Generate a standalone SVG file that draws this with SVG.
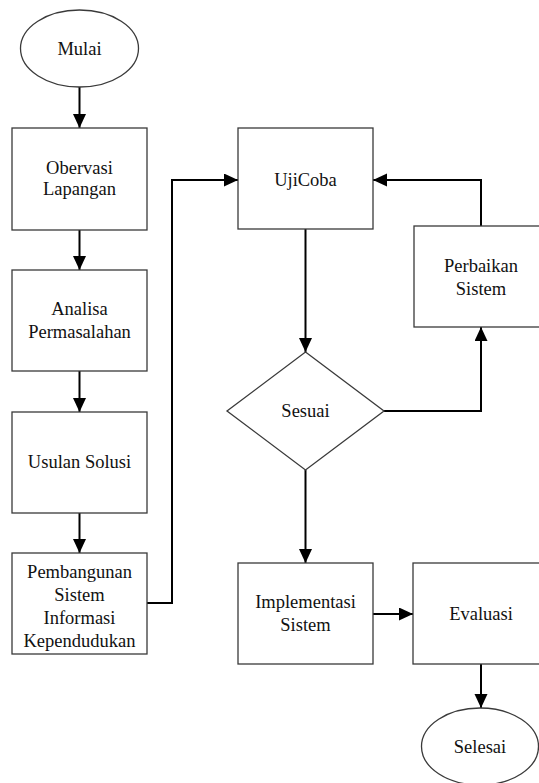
<svg xmlns="http://www.w3.org/2000/svg" width="539" height="783" viewBox="0 0 539 783">
<style>
.shape{fill:#fff;stroke:#3a3a3a;stroke-width:1.3}
.conn{fill:none;stroke:#000;stroke-width:2}
text{font-family:"Liberation Serif","Times New Roman",serif;font-size:18.5px;fill:#111;text-anchor:middle}
</style>
<defs>
<marker id="ah" markerUnits="userSpaceOnUse" markerWidth="14" markerHeight="14" refX="14" refY="6.5" orient="auto">
<path d="M0,0 L14,6.5 L0,13 z" fill="#000"/>
</marker>
</defs>
<rect width="539" height="783" fill="#fff"/>
<g id="connectors">
<path class="conn" d="M79.5,87 V128" marker-end="url(#ah)"/>
<path class="conn" d="M79.5,230 V270" marker-end="url(#ah)"/>
<path class="conn" d="M79.5,371 V412" marker-end="url(#ah)"/>
<path class="conn" d="M79.5,513 V553" marker-end="url(#ah)"/>
<path class="conn" d="M147,603 H172 V180 H238" marker-end="url(#ah)"/>
<path class="conn" d="M305.5,229 V352" marker-end="url(#ah)"/>
<path class="conn" d="M384,411 H481 V327" marker-end="url(#ah)"/>
<path class="conn" d="M481,226 V180 H373" marker-end="url(#ah)"/>
<path class="conn" d="M305.5,470 V563" marker-end="url(#ah)"/>
<path class="conn" d="M373,614 H413" marker-end="url(#ah)"/>
<path class="conn" d="M481,664 V708" marker-end="url(#ah)"/>
</g>
<g id="mulai">
<ellipse class="shape" cx="79.5" cy="48.5" rx="59" ry="38.5"/>
<text x="79.5" y="55">Mulai</text>
</g>
<g id="obervasi">
<rect class="shape" x="12" y="128" width="135" height="102"/>
<text x="79.5" y="174">Obervasi</text>
<text x="79.5" y="195">Lapangan</text>
</g>
<g id="analisa">
<rect class="shape" x="12" y="270" width="135" height="101"/>
<text x="79.5" y="315">Analisa</text>
<text x="79.5" y="337.5">Permasalahan</text>
</g>
<g id="usulan">
<rect class="shape" x="12" y="412" width="135" height="101"/>
<text x="79.5" y="468">Usulan Solusi</text>
</g>
<g id="pembangunan">
<rect class="shape" x="12" y="553" width="135" height="101"/>
<text x="79.5" y="577.5">Pembangunan</text>
<text x="79.5" y="600.5">Sistem</text>
<text x="79.5" y="624">Informasi</text>
<text x="79.5" y="647">Kependudukan</text>
</g>
<g id="ujicoba">
<rect class="shape" x="238" y="128" width="135" height="101"/>
<text x="305.5" y="186">UjiCoba</text>
</g>
<g id="perbaikan">
<rect class="shape" x="414" y="226" width="135" height="101"/>
<text x="481" y="271.5">Perbaikan</text>
<text x="481" y="295">Sistem</text>
</g>
<g id="sesuai">
<polygon class="shape" points="305.5,352 384,411 305.5,470 227,411"/>
<text x="305.5" y="417">Sesuai</text>
</g>
<g id="implementasi">
<rect class="shape" x="238" y="563" width="135" height="101"/>
<text x="305.5" y="608">Implementasi</text>
<text x="305.5" y="631">Sistem</text>
</g>
<g id="evaluasi">
<rect class="shape" x="413" y="563" width="135" height="101"/>
<text x="481" y="620">Evaluasi</text>
</g>
<g id="selesai">
<ellipse class="shape" cx="480" cy="746.5" rx="58.5" ry="38.5"/>
<text x="480" y="753">Selesai</text>
</g>
</svg>
